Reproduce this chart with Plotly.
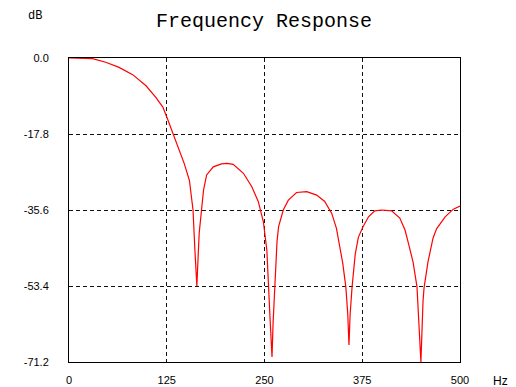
import plotly.graph_objects as go

freq_hz = [0, 15, 30, 47, 64, 81.4, 98.5, 111, 120, 126, 132.6, 141, 147.5, 154, 158.6,
           161, 162.5, 163.5, 165, 166.5, 169.7, 172, 176, 184.5, 195, 202, 210, 223, 233.6, 242,
           248.5, 253, 257, 259.6, 261, 264, 266, 268, 274, 280.5, 291, 304, 316.7, 327, 336,
           342, 346.5, 350, 354, 356.5, 358, 359.5, 362, 366, 370, 376, 383, 391, 400, 412.6,
           423, 429.7, 433.5, 440, 445, 447.6, 450, 452.7, 454, 459, 465.5, 470, 475, 481,
           491.5, 500]
gain_db = [0, 0, -0.15, -1.0, -2.2, -3.9, -6.5, -9.2, -11.5, -14.3, -17.4, -21.7, -24.8, -28.7, -35.6,
           -45, -50, -53.4, -47, -41, -35.2, -31, -27.4, -25.5, -24.8, -24.7, -24.9, -27, -30.1, -33.6,
           -38.3, -45, -60.6, -70, -62, -48, -43, -39.5, -35.6, -33.3, -31.5, -31.3, -32.1, -33.6, -36.4,
           -39.9, -44, -48, -53.6, -60, -67.2, -60, -53.6, -46, -42, -39.5, -37.2, -35.8, -35.6, -35.8,
           -37.5, -40.3, -43, -47.8, -53.6, -63.2, -71.2, -57, -53.9, -47.8, -42.2, -40, -38.6, -37.2,
           -35.4, -34.7]

x_ticks = [0, 125, 250, 375, 500]
x_tick_labels = ["0", "125", "250", "375", "500"]
y_ticks = [0, -17.8, -35.6, -53.4, -71.2]
y_tick_labels = ["0.0", "-17.8", "-35.6", "-53.4", "-71.2"]

# page body has an 8px margin; figure coordinates are offset accordingly
W, H = 508, 379

fig = go.Figure()
fig.add_trace(go.Scatter(x=freq_hz, y=gain_db, mode="lines",
                         line=dict(color="#ff0000", width=1.2), showlegend=False,
                         hoverinfo="skip"))

axis_common = dict(showline=True, linecolor="black", linewidth=1, mirror=True,
                   showgrid=True, gridcolor="#111111", gridwidth=1, griddash="4px,3px",
                   zeroline=False, ticks="", automargin=False,
                   tickfont=dict(family="Liberation Sans, Arial", size=11, color="black"))

fig.update_xaxes(range=[0, 500], tickvals=x_ticks, ticktext=x_tick_labels,
                 ticklabelstandoff=8, **axis_common)
fig.update_yaxes(range=[-71.2, 0], tickvals=y_ticks, ticktext=y_tick_labels,
                 ticklabelstandoff=17, **axis_common)

fig.update_layout(
    width=W, height=H,
    margin=dict(l=61, r=56, t=50, b=25, autoexpand=False),
    paper_bgcolor="white", plot_bgcolor="white",
    title=dict(text="Frequency Response", x=256 / W, xanchor="center",
               y=1 - 12 / H, yanchor="middle",
               font=dict(family="Liberation Mono, Courier New, monospace", size=20, color="black")),
    annotations=[
        dict(text="dB", xref="paper", yref="paper", x=(35 - 69) / 391, y=1 + (58 - 16) / 304,
             xanchor="center", yanchor="middle", showarrow=False,
             font=dict(family="Liberation Mono, monospace", size=12, color="black")),
        dict(text="Hz", xref="paper", yref="paper", x=(501 - 69) / 391, y=-(381 - 362) / 304,
             xanchor="center", yanchor="middle", showarrow=False,
             font=dict(family="Liberation Sans, Arial", size=12, color="black")),
    ],
)

fig.write_html("out.html")
